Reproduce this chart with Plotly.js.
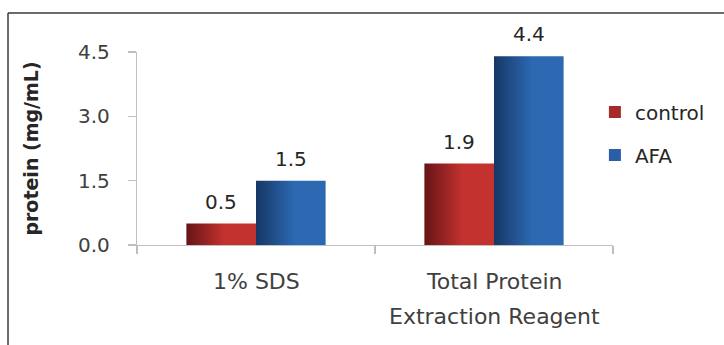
<!DOCTYPE html>
<html>
<head>
<meta charset="utf-8">
<script src="https://cdn.plot.ly/plotly-3.0.1.min.js"></script>
<style>
  html, body { margin: 0; padding: 0; background: #fff; }
  #chart { width: 724px; height: 345px; }
</style>
</head>
<body>
<div id="chart"></div>
<script>
// ---- data ----
const categories = ['1% SDS', 'Total Protein Extraction Reagent'];
const categoryLabelLines = [['1% SDS'], ['Total Protein', 'Extraction Reagent']];
const seriesNames = ['control', 'AFA'];
const controlValues = [0.5, 1.9];
const afaValues = [1.5, 4.4];
const yTickVals = [0, 1.5, 3.0, 4.5];
const yTickText = ['0.0', '1.5', '3.0', '4.5'];
const yTitle = 'protein (mg/mL)';

// ---- style ----
const FONT = 'DejaVu Sans, sans-serif';
const seriesColors = ['#a52a2a', '#2a5ea8'];
const gradStops = [['#661416', '#c4322f'], ['#163766', '#2c69b2']];
const bargap = 0.415;
const allValues = [controlValues, afaValues];

const traces = allValues.map((vals, s) => ({
  type: 'bar',
  name: seriesNames[s],
  legendgroup: seriesNames[s],
  x: categories,
  y: vals,
  marker: { color: seriesColors[s], line: { width: 0 } },
  hoverinfo: 'skip'
}));

const annotations = [];
allValues.forEach((vals, s) => {
  vals.forEach((v, i) => {
    annotations.push({
      xref: 'x', yref: 'y',
      x: i + (s === 0 ? -1 : 1) * (1 - bargap) / 4,
      y: v,
      text: v.toFixed(1),
      showarrow: false,
      yanchor: 'bottom',
      yshift: 8,
      font: { family: FONT, size: 20, color: '#262626' }
    });
  });
});
// category labels (one annotation per line, for the original's wide line spacing)
categoryLabelLines.forEach((lines, i) => {
  lines.forEach((line, k) => {
    annotations.push({
      xref: 'x', yref: 'paper',
      x: i, y: 0,
      text: line,
      showarrow: false,
      yanchor: 'top',
      yshift: -22 - k * 35,
      font: { family: FONT, size: 22, color: '#404040' }
    });
  });
});

const frameColor = '#3a3a3a';
const layout = {
  width: 724, height: 345,
  margin: { l: 137, r: 111, t: 52, b: 100, pad: 0 },
  paper_bgcolor: '#fff', plot_bgcolor: '#fff',
  font: { family: FONT, color: '#404040' },
  bargap: bargap, bargroupgap: 0, barmode: 'group',
  showlegend: true,
  legend: {
    x: 0.962, xanchor: 'left', y: 0.79, yanchor: 'top',
    font: { family: FONT, size: 20, color: '#262626' },
    traceorder: 'grouped', tracegroupgap: 14,
    bgcolor: 'rgba(0,0,0,0)', itemwidth: 30
  },
  xaxis: {
    type: 'category',
    showline: true, linecolor: '#bfbfbf', linewidth: 1.2,
    ticks: 'outside', tickson: 'boundaries', ticklen: 8, tickcolor: '#bfbfbf', tickwidth: 1.2,
    showticklabels: false,
    showgrid: false, zeroline: false, fixedrange: true
  },
  yaxis: {
    range: [0, 4.5],
    tickmode: 'array', tickvals: yTickVals, ticktext: yTickText,
    showline: true, linecolor: '#bfbfbf', linewidth: 1.2,
    ticks: 'outside', ticklen: 8, tickcolor: '#bfbfbf', tickwidth: 1.2,
    tickfont: { family: FONT, size: 20, color: '#404040' },
    ticklabelstandoff: 14,
    showgrid: false, zeroline: false, fixedrange: true,
    automargin: false,
    title: { text: '<b>' + yTitle + '</b>', font: { family: FONT, size: 19, color: '#262626' }, standoff: 34 }
  },
  annotations: annotations,
  shapes: [
    { type: 'line', xref: 'paper', yref: 'paper', x0: -0.271, x1: 1.3, y0: 1.202, y1: 1.202,
      line: { color: frameColor, width: 1.5 } },
    { type: 'line', xref: 'paper', yref: 'paper', x0: -0.271, x1: -0.271, y0: 1.202, y1: -0.6,
      line: { color: frameColor, width: 1.5 } }
  ]
};

Plotly.newPlot('chart', traces, layout, { displayModeBar: false, staticPlot: true }).then(gd => {
  // horizontal gradient fill on each bar, like the original
  const svg = gd.querySelector('.main-svg');
  const defs = svg.querySelector('defs');
  const NS = 'http://www.w3.org/2000/svg';
  gradStops.forEach((stops, s) => {
    const g = document.createElementNS(NS, 'linearGradient');
    g.setAttribute('id', 'bargrad' + s);
    g.setAttribute('x1', '0'); g.setAttribute('x2', '1');
    g.setAttribute('y1', '0'); g.setAttribute('y2', '0');
    [[0, stops[0]], [0.55, stops[1]], [1, stops[1]]].forEach(([o, c]) => {
      const st = document.createElementNS(NS, 'stop');
      st.setAttribute('offset', o);
      st.setAttribute('stop-color', c);
      g.appendChild(st);
    });
    defs.appendChild(g);
  });
  gd.querySelectorAll('.barlayer .trace.bars').forEach((tr, s) => {
    tr.querySelectorAll('path').forEach(p => { p.style.fill = 'url(#bargrad' + s + ')'; });
  });
});
</script>
</body>
</html>
